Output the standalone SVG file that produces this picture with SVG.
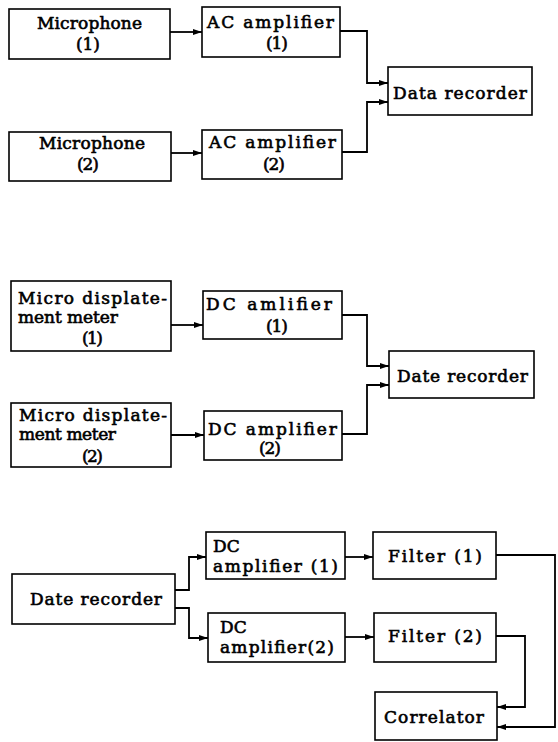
<svg xmlns="http://www.w3.org/2000/svg" width="558" height="742" viewBox="0 0 558 742">
<style>
.box{fill:#fff;stroke:#000;stroke-width:1.6}
text{font-family:'DejaVu Serif','Liberation Serif',serif;font-size:17px;fill:#000;stroke:#000;stroke-width:0.6}
.c{fill:none;stroke:#000;stroke-width:1.8}
</style>
<defs>
<marker id="ah" markerUnits="userSpaceOnUse" markerWidth="10" markerHeight="8" refX="9" refY="3.5" orient="auto">
<path d="M0,0.5 L9,3.5 L0,6.5 Z" fill="#000"/>
</marker>
</defs>
<rect width="558" height="742" fill="#fff"/>
<g id="connectors">
<path class="c" d="M170,32 H202" marker-end="url(#ah)"/>
<path class="c" d="M171,153 H202" marker-end="url(#ah)"/>
<path class="c" d="M340,31 H367 V83 H388" marker-end="url(#ah)"/>
<path class="c" d="M342,152 H367 V102 H388" marker-end="url(#ah)"/>
<path class="c" d="M171,325 H203" marker-end="url(#ah)"/>
<path class="c" d="M171,435 H204" marker-end="url(#ah)"/>
<path class="c" d="M342,315 H367 V366 H389" marker-end="url(#ah)"/>
<path class="c" d="M342,434 H367 V385 H389" marker-end="url(#ah)"/>
<path class="c" d="M175,590 H189 V557 H206" marker-end="url(#ah)"/>
<path class="c" d="M175,608 H189 V638 H208" marker-end="url(#ah)"/>
<path class="c" d="M345,557 H373" marker-end="url(#ah)"/>
<path class="c" d="M345,637 H374" marker-end="url(#ah)"/>
<path class="c" d="M496,555 H555 V727 H497" marker-end="url(#ah)"/>
<path class="c" d="M496,636 H525 V707 H497" marker-end="url(#ah)"/>
</g>
<g id="mic1"><rect class="box" x="9" y="9" width="161" height="50"/>
<text x="37" y="29" textLength="105" lengthAdjust="spacing">Microphone</text>
<text x="76" y="50" textLength="24" lengthAdjust="spacing">(1)</text></g>
<g id="acamp1"><rect class="box" x="202" y="7" width="138" height="50"/>
<text x="207" y="28" textLength="127" lengthAdjust="spacing">AC amplifier</text>
<text x="266" y="49" textLength="22" lengthAdjust="spacing">(1)</text></g>
<g id="mic2"><rect class="box" x="9" y="132" width="162" height="49"/>
<text x="39" y="149" textLength="106" lengthAdjust="spacing">Microphone</text>
<text x="77" y="170" textLength="22" lengthAdjust="spacing">(2)</text></g>
<g id="acamp2"><rect class="box" x="202" y="130" width="140" height="49"/>
<text x="209" y="148" textLength="127" lengthAdjust="spacing">AC amplifier</text>
<text x="263" y="170" textLength="22" lengthAdjust="spacing">(2)</text></g>
<g id="datarec1"><rect class="box" x="388" y="67" width="144" height="48"/>
<text x="393" y="99" textLength="134" lengthAdjust="spacing" font-size="18">Data recorder</text></g>
<g id="mdm1"><rect class="box" x="11" y="281" width="160" height="70"/>
<text x="18" y="304" textLength="149" lengthAdjust="spacing">Micro displate-</text>
<text x="18" y="323" textLength="100" lengthAdjust="spacing">ment meter</text>
<text x="82" y="344" textLength="21" lengthAdjust="spacing">(1)</text></g>
<g id="dcamp1"><rect class="box" x="203" y="291" width="139" height="48"/>
<text x="206" y="310" textLength="126" lengthAdjust="spacing">DC amlifier</text>
<text x="266" y="332" textLength="22" lengthAdjust="spacing">(1)</text></g>
<g id="mdm2"><rect class="box" x="11" y="403" width="160" height="64"/>
<text x="19" y="421" textLength="148" lengthAdjust="spacing">Micro displate-</text>
<text x="19" y="440" textLength="97" lengthAdjust="spacing">ment meter</text>
<text x="82" y="462" textLength="21" lengthAdjust="spacing">(2)</text></g>
<g id="dcamp2"><rect class="box" x="204" y="411" width="138" height="49"/>
<text x="208" y="435" textLength="129" lengthAdjust="spacing">DC amplifier</text>
<text x="259" y="454" textLength="22" lengthAdjust="spacing">(2)</text></g>
<g id="daterec2"><rect class="box" x="389" y="351" width="145" height="47"/>
<text x="397" y="382" textLength="131" lengthAdjust="spacing" font-size="18">Date recorder</text></g>
<g id="daterec3"><rect class="box" x="12" y="574" width="163" height="50"/>
<text x="30" y="605" textLength="132" lengthAdjust="spacing" font-size="18">Date recorder</text></g>
<g id="dcamp3a"><rect class="box" x="206" y="532" width="139" height="47"/>
<text x="213" y="552">DC</text>
<text x="213" y="572" textLength="125" lengthAdjust="spacing">amplifier (1)</text></g>
<g id="dcamp3b"><rect class="box" x="208" y="613" width="137" height="49"/>
<text x="220" y="633">DC</text>
<text x="220" y="653" textLength="114" lengthAdjust="spacing">amplifier(2)</text></g>
<g id="filter1"><rect class="box" x="373" y="532" width="123" height="47"/>
<text x="388" y="562" textLength="94" lengthAdjust="spacing" font-size="18">Filter (1)</text></g>
<g id="filter2"><rect class="box" x="374" y="613" width="122" height="49"/>
<text x="388" y="642" textLength="94" lengthAdjust="spacing" font-size="18">Filter (2)</text></g>
<g id="correlator"><rect class="box" x="375" y="692" width="122" height="48"/>
<text x="384" y="723" textLength="100" lengthAdjust="spacing" font-size="18">Correlator</text></g>
</svg>
